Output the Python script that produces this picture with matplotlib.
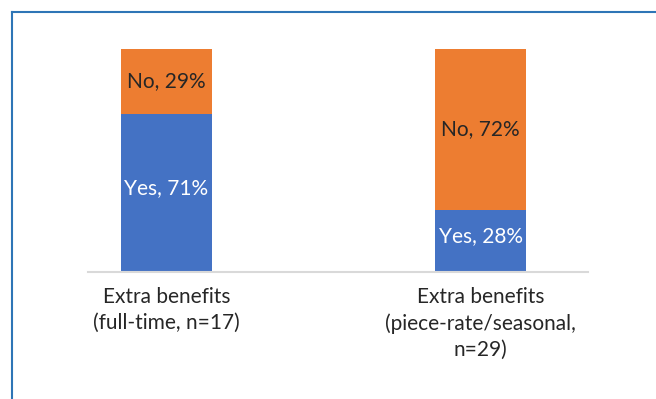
import matplotlib
matplotlib.use('Agg')
import matplotlib.pyplot as plt
from matplotlib.lines import Line2D

# Dados
categories = ['Extra benefits\n(full-time, n=17)',
              'Extra benefits\n(piece-rate/seasonal,\nn=29)']
yes_vals = [71, 28]
no_vals = [29, 72]

plt.rcParams['font.family'] = ['Lato', 'DejaVu Sans']

fig = plt.figure(figsize=(6.56, 3.99), dpi=100)
ax = fig.add_axes([88 / 656, (399 - 272) / 399, 500 / 656, 223 / 399])

x = list(range(len(categories)))
width = 0.29
yes = [v / 100 for v in yes_vals]
no = [v / 100 for v in no_vals]

bars_yes = ax.bar(x, yes, width, color='#4472c4')
bars_no = ax.bar(x, no, width, bottom=yes, color='#ed7d31')

# rotulos dentro das barras
for i in x:
    ax.text(i, yes[i] / 2 + 0.02, f'Yes, {yes_vals[i]}%', ha='center', va='center',
            color='white', fontsize=15)
    ax.text(i, yes[i] + no[i] / 2, f'No, {no_vals[i]}%', ha='center', va='center',
            color='#262626', fontsize=15)

ax.set_xlim(-0.25, 1.342)
ax.set_ylim(0, 1)
ax.set_xticks(x)
ax.set_xticklabels(categories, fontsize=15, color='#262626', linespacing=1.38)
ax.tick_params(axis='x', length=0, pad=11)
ax.set_yticks([])
for s in ['top', 'right', 'left']:
    ax.spines[s].set_visible(False)
ax.spines['bottom'].set_color('#d9d9d9')
ax.spines['bottom'].set_linewidth(1.5)

# moldura azul (esquerda e topo)
fig.add_artist(Line2D([11.5 / 656, 11.5 / 656], [0, (399 - 11.5) / 399],
                      color='#2e75b6', lw=1.5, transform=fig.transFigure))
fig.add_artist(Line2D([11.5 / 656, 1], [(399 - 11.5) / 399, (399 - 11.5) / 399],
                      color='#2e75b6', lw=1.5, transform=fig.transFigure))

fig.savefig('out.png', dpi=100)
